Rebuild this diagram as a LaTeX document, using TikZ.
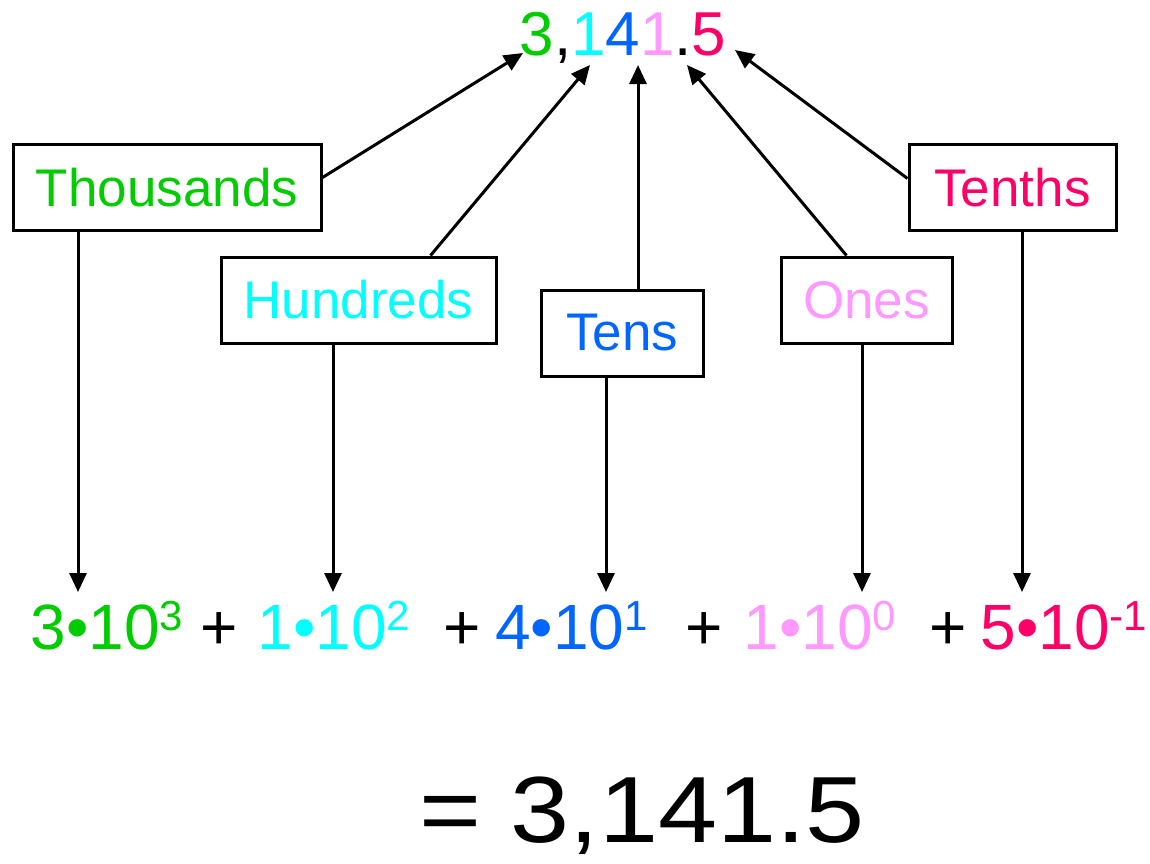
\documentclass[tikz,border=0pt]{standalone}
\usepackage{fontspec}
\setmainfont{Liberation Sans}
\usetikzlibrary{arrows.meta}
\definecolor{thgreen}{RGB}{0,204,0}
\definecolor{hucyan}{RGB}{0,255,255}
\definecolor{teblue}{RGB}{0,102,255}
\definecolor{onpink}{RGB}{255,153,255}
\definecolor{tnred}{RGB}{255,0,102}
\newcommand{\pten}[2]{#1•10\raisebox{19pt}{\fontsize{42}{42}\selectfont #2}}
\tikzset{
  place/.style={draw, line width=3pt, inner sep=0pt, minimum height=86pt, font=\fontsize{53}{60}\selectfont},
  term/.style={anchor=base, inner sep=0pt, font=\fontsize{64}{70}\selectfont},
  pointer/.style={line width=3pt, -{Triangle[length=19pt,width=17pt]}}
}
\begin{document}
\begin{tikzpicture}[x=1pt,y=-1pt]
  \useasboundingbox (0,0) rectangle (1150,863);
  \node[anchor=base, inner sep=0pt, font=\fontsize{62}{70}\selectfont] (num) at (623,55)
    {\textcolor{thgreen}{3},\textcolor{hucyan}{1}\textcolor{teblue}{4}\textcolor{onpink}{1}.\textcolor{tnred}{5}};
  \coordinate (n3) at (523,53);
  \coordinate (n2) at (590,65);
  \coordinate (n1) at (638,65);
  \coordinate (n0) at (687,65);
  \coordinate (nm1) at (735,50);

  \node[place, minimum width=308pt, text=thgreen] (thou) at (167,187.5) {Thousands};
  \node[place, minimum width=275pt, text=hucyan] (hund) at (358.5,300) {Hundreds};
  \node[place, minimum width=162pt, text=teblue] (tens) at (622,333) {Tens};
  \node[place, minimum width=171pt, text=onpink] (ones) at (866.5,300) {Ones};
  \node[place, minimum width=207pt, text=tnred] (tenth) at (1012.5,187.5) {Tenths};

  \draw[pointer] ([yshift=10pt]thou.east) -- (n3);
  \draw[pointer] ([xshift=72pt]hund.north) -- (n2);
  \draw[pointer] (tens.north -| n1) -- (n1);
  \draw[pointer] ([xshift=-20pt]ones.north) -- (n0);
  \draw[pointer] ([yshift=9pt]tenth.west) -- (nm1);

  \node[term, text=thgreen] (t3) at (107,649) {\pten{3}{3}};
  \node[term] (p1) at (219,649) {+};
  \node[term, text=hucyan] (t2) at (334,649) {\pten{1}{2}};
  \node[term] (p2) at (462,649) {+};
  \node[term, text=teblue] (t1) at (571.5,649) {\pten{4}{1}};
  \node[term] (p3) at (704.5,649) {+};
  \node[term, text=onpink] (t0) at (820,649) {\pten{1}{0}};
  \node[term] (p4) at (948,649) {+};
  \node[term, text=tnred] (tm1) at (1064,649) {\pten{5}{-1}};
  \coordinate (d3) at (78,592);
  \coordinate (d2) at (333,592);
  \coordinate (d1) at (606,592);
  \coordinate (d0) at (862,592);
  \coordinate (dm1) at (1022,592);

  \draw[pointer] (thou.south -| d3) -- (d3);
  \draw[pointer] (hund.south -| d2) -- (d2);
  \draw[pointer] (tens.south -| d1) -- (d1);
  \draw[pointer] (ones.south -| d0) -- (d0);
  \draw[pointer] (tenth.south -| dm1) -- (dm1);

  \node[anchor=base, inner sep=0pt, font=\fontsize{94}{100}\selectfont] (total) at (642,842) {\scalebox{1.13}[1]{= 3,141.5}};
\end{tikzpicture}
\end{document}
